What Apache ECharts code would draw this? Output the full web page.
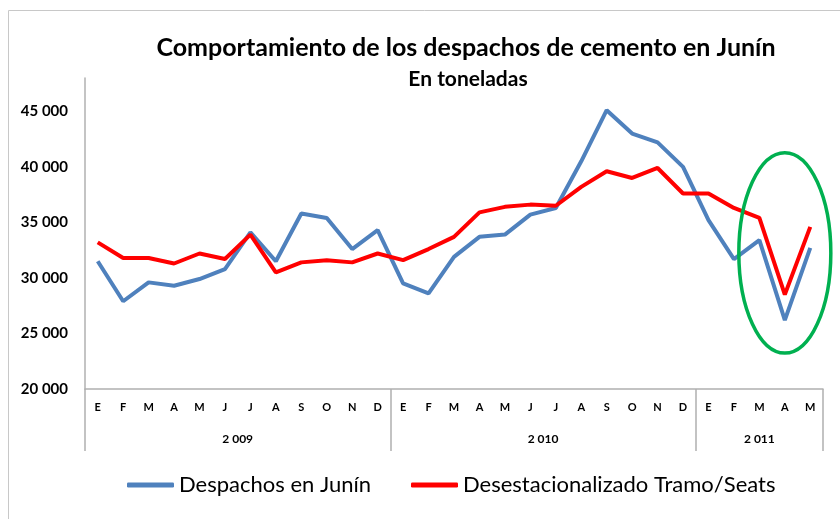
<!DOCTYPE html>
<html>
<head>
<meta charset="utf-8">
<script src="https://cdn.jsdelivr.net/npm/echarts@6/dist/echarts.min.js"></script>
<style>
  html, body { margin: 0; padding: 0; background: #fff; }
  #main { width: 840px; height: 519px; }
</style>
</head>
<body>
<div id="main"></div>
<script type="text/javascript">
    // meses (2009 - may 2011)
    var meses = ['E','F','M','A','M','J','J','A','S','O','N','D',
                 'E','F','M','A','M','J','J','A','S','O','N','D',
                 'E','F','M','A','M'];
    var anios = ['2 009', '2 010', '2 011'];
    var anioCentro = [6, 18, 26.5];     // posición de la etiqueta de cada año
    var anioCorte = [0, 12, 24, 29];    // separadores entre años

    var despachos = [31500, 27900, 29600, 29300, 29900, 30800, 34100, 31500, 35800, 35400, 32600, 34300,
                     29500, 28600, 31900, 33700, 33900, 35700, 36300, 40500, 45100, 43000, 42200, 40000,
                     35200, 31700, 33400, 26200, 32700];
    var desestacionalizado = [33200, 31800, 31800, 31300, 32200, 31700, 33900, 30500, 31400, 31600, 31400, 32200,
                              31600, 32600, 33700, 35900, 36400, 36600, 36500, 38200, 39600, 39000, 39900, 37600,
                              37600, 36300, 35400, 28500, 34600];

    var fuente = 'Lato, "Open Sans", sans-serif';

    var myChart = echarts.init(document.getElementById('main'));
    var option = {
        animation: false,
        title: [
            {
                text: 'Comportamiento de los despachos de cemento en Junín',
                left: 461,
                top: 30,
                textAlign: 'center',
                textStyle: { fontFamily: fuente, fontWeight: 'bold', fontSize: 25, color: '#000' }
            },
            {
                text: 'En toneladas',
                left: 463,
                top: 64,
                textAlign: 'center',
                textStyle: { fontFamily: fuente, fontWeight: 'bold', fontSize: 21, color: '#000' }
            }
        ],
        grid: {
            left: 85,
            right: 17,
            top: 78,
            bottom: 130
        },
        legend: {
            left: 122,
            top: 469,
            itemWidth: 47,
            itemHeight: 5,
            itemGap: 40,
            icon: 'roundRect',
            textStyle: { fontFamily: fuente, fontSize: 22, color: '#000' },
            data: ['Despachos en Junín', 'Desestacionalizado Tramo/Seats']
        },
        xAxis: [
            {
                type: 'category',
                data: meses,
                position: 'bottom',
                axisLine: { lineStyle: { color: '#b0b0b0', width: 1.5 } },
                axisTick: { show: false },
                axisLabel: {
                    interval: 0,
                    margin: 13,
                    fontFamily: fuente,
                    fontWeight: 'bold',
                    fontSize: 11,
                    color: '#000'
                }
            },
            {
                type: 'value',
                min: 0,
                max: 29,
                position: 'bottom',
                offset: 0,
                splitLine: { show: false },
                axisLine: { show: false },
                axisTick: {
                    show: true,
                    customValues: anioCorte,
                    length: 62,
                    lineStyle: { color: '#b0b0b0', width: 1.5 }
                },
                axisLabel: {
                    customValues: anioCentro,
                    margin: 44,
                    fontFamily: fuente,
                    fontWeight: 'bold',
                    fontSize: 12,
                    color: '#000',
                    formatter: function (v) {
                        return anios[anioCentro.indexOf(v)] || '';
                    }
                }
            }
        ],
        yAxis: {
            type: 'value',
            min: 20000,
            max: 48000,
            interval: 5000,
            splitLine: { show: false },
            axisLine: { show: true, lineStyle: { color: '#b0b0b0', width: 1.5 } },
            axisTick: { show: false },
            axisLabel: {
                margin: 17,
                showMaxLabel: false,
                fontFamily: fuente,
                fontWeight: 'bold',
                fontSize: 15,
                color: '#000',
                formatter: function (v) {
                    return String(v).replace(/\B(?=(\d{3})+(?!\d))/g, ' ');
                }
            }
        },
        series: [
            {
                name: 'Despachos en Junín',
                type: 'line',
                symbol: 'none',
                color: '#4f81bd',
                lineStyle: { width: 4, color: '#4f81bd' },
                data: despachos
            },
            {
                name: 'Desestacionalizado Tramo/Seats',
                type: 'line',
                symbol: 'none',
                color: '#ff0000',
                lineStyle: { width: 4, color: '#ff0000' },
                data: desestacionalizado
            }
        ]
    };
    myChart.setOption(option);

    // elipse verde sobre la caída de abril 2011
    var c = myChart.convertToPixel({ xAxisIndex: 0, yAxisIndex: 0 }, [27.2, 32250]);
    var arriba = myChart.convertToPixel({ xAxisIndex: 0, yAxisIndex: 0 }, [27, 41270]);
    var ry = c[1] - arriba[1];
    myChart.setOption({
        graphic: [
            {
                type: 'polyline',
                silent: true,
                shape: { points: [[8.5, 519], [8.5, 10.5], [840, 10.5]] },
                style: { stroke: '#c8c8c8', lineWidth: 1, fill: null }
            },
            {
                type: 'ellipse',
                silent: true,
                z: 10,
                shape: { cx: c[0], cy: c[1], rx: 46, ry: ry },
                style: { stroke: '#00b050', lineWidth: 3.5, fill: null }
            }
        ]
    });
</script>
</body>
</html>
